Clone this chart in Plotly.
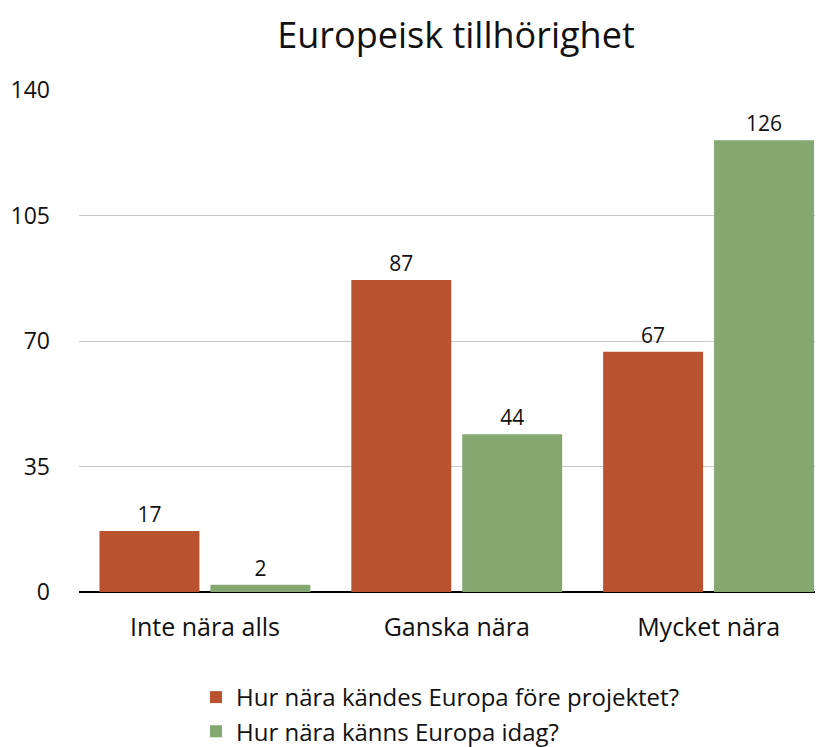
import plotly.graph_objects as go

categories = ["Inte nära alls", "Ganska nära", "Mycket nära"]
series_names = ["Hur nära kändes Europa före projektet?", "Hur nära känns Europa idag?"]
before_values = [17, 87, 67]
today_values = [2, 44, 126]
y_ticks = [0, 35, 70, 105, 140]
colors = ["#B8522F", "#84A870"]

FONT = "Open Sans"

fig = go.Figure()
for name, vals, col in zip(series_names, [before_values, today_values], colors):
    fig.add_trace(go.Bar(
        x=categories, y=vals, name=name,
        marker=dict(color=col, line=dict(width=0)),
        text=[str(v) for v in vals], textposition="outside",
        textfont=dict(family=FONT, size=21, color="#111111"),
        cliponaxis=False,
    ))

# page body has an 8px margin: figure is placed at (8, 8) in the window
OFF = 8
W, H = 823 - OFF, 747 - OFF
left_win, right_full_win = 78.5, 834.5
ml = left_win - OFF
mr = 0
plot_w = W - ml - mr
cat_w = (right_full_win - left_win) / 3.0
x_hi = -0.5 + plot_w / cat_w
mt = 90 - OFF
mb = H - (592 - OFF)

fig.update_layout(
    width=W, height=H,
    margin=dict(l=ml, r=mr, t=mt, b=mb, autoexpand=False),
    paper_bgcolor="white", plot_bgcolor="white",
    font=dict(family=FONT, size=22, color="#111111"),
    title=dict(text="Europeisk tillhörighet", x=(456 - OFF) / W, xanchor="center",
               y=1 - (35 - OFF) / H, yanchor="middle",
               font=dict(family=FONT, size=36, color="#111111")),
    barmode="group", bargap=0.119, bargroupgap=0.099,
    showlegend=True,
    legend=dict(orientation="v", x=(196 - OFF) / W, xanchor="left", xref="container",
                y=1 - (675 - OFF) / H, yanchor="top", yref="container",
                font=dict(family=FONT, size=24, color="#111111"),
                itemwidth=30, tracegroupgap=0, traceorder="normal"),
    xaxis=dict(range=[-0.5, x_hi], showgrid=False, showline=False, zeroline=False,
               ticks="", tickangle=0, automargin=False, ticklabelstandoff=18,
               tickfont=dict(family=FONT, size=25, color="#111111")),
    yaxis=dict(range=[0, 140], tickvals=y_ticks, showgrid=True, gridcolor="#C8C8C8",
               gridwidth=1, zeroline=True, zerolinecolor="#000000", zerolinewidth=2,
               showline=False, ticks="", ticklabelstandoff=28, automargin=False,
               tickfont=dict(family=FONT, size=23, color="#111111")),
)

fig.write_html("out.html")
